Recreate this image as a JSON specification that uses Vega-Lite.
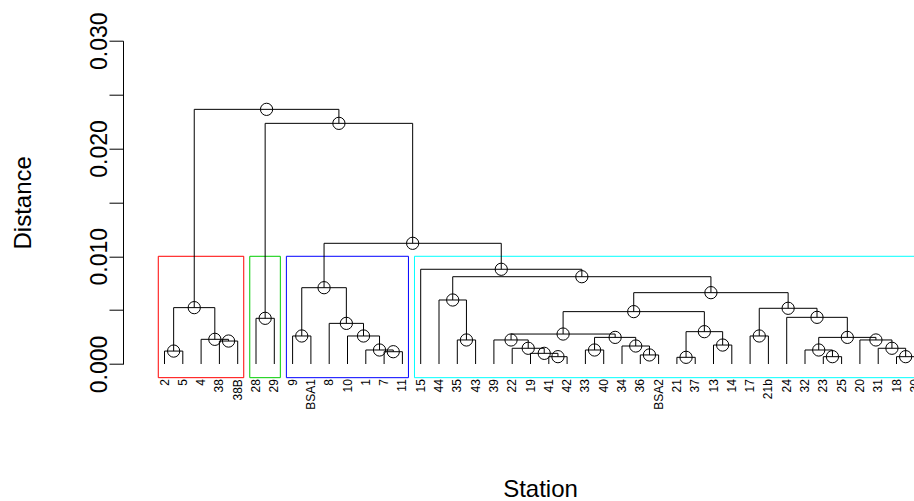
{
  "$schema": "https://vega.github.io/schema/vega-lite/v6.json",
  "autosize": {"type": "none"},
  "padding": {"left": 146.2, "top": 40.7, "right": 0, "bottom": 137},
  "width": 767.8,
  "height": 323.3,
  "background": "white",
  "config": {
    "view": {"stroke": null},
    "font": "Liberation Sans"
  },
  "datasets": {
    "merges": [
      {"id": 1, "xl": 1, "hl": 0, "xr": 2, "hr": 0, "h": 0.0012, "x": 1.5},
      {"id": 2, "xl": 4, "hl": 0, "xr": 5, "hr": 0, "h": 0.00213, "x": 4.5},
      {"id": 3, "xl": 3, "hl": 0, "xr": 4.5, "hr": 0.00213, "h": 0.00229, "x": 3.75},
      {"id": 4, "xl": 1.5, "hl": 0.0012, "xr": 3.75, "hr": 0.00229, "h": 0.00523, "x": 2.625},
      {"id": 5, "xl": 6, "hl": 0, "xr": 7, "hr": 0, "h": 0.00424, "x": 6.5},
      {"id": 6, "xl": 8, "hl": 0, "xr": 9, "hr": 0, "h": 0.0026, "x": 8.5},
      {"id": 7, "xl": 13, "hl": 0, "xr": 14, "hr": 0, "h": 0.00114, "x": 13.5},
      {"id": 8, "xl": 12, "hl": 0, "xr": 13.5, "hr": 0.00114, "h": 0.0013, "x": 12.75},
      {"id": 9, "xl": 11, "hl": 0, "xr": 12.75, "hr": 0.0013, "h": 0.0026, "x": 11.875},
      {"id": 10, "xl": 10, "hl": 0, "xr": 11.875, "hr": 0.0026, "h": 0.00377, "x": 10.9375},
      {"id": 11, "xl": 8.5, "hl": 0.0026, "xr": 10.9375, "hr": 0.00377, "h": 0.00708, "x": 9.71875},
      {"id": 12, "xl": 17, "hl": 0, "xr": 18, "hr": 0, "h": 0.00223, "x": 17.5},
      {"id": 13, "xl": 16, "hl": 0, "xr": 17.5, "hr": 0.00223, "h": 0.00594, "x": 16.75},
      {"id": 14, "xl": 22, "hl": 0, "xr": 23, "hr": 0, "h": 0.00068, "x": 22.5},
      {"id": 15, "xl": 21, "hl": 0, "xr": 22.5, "hr": 0.00068, "h": 0.00099, "x": 21.75},
      {"id": 16, "xl": 20, "hl": 0, "xr": 21.75, "hr": 0.00099, "h": 0.00146, "x": 20.875},
      {"id": 17, "xl": 19, "hl": 0, "xr": 20.875, "hr": 0.00146, "h": 0.00223, "x": 19.9375},
      {"id": 18, "xl": 24, "hl": 0, "xr": 25, "hr": 0, "h": 0.0013, "x": 24.5},
      {"id": 19, "xl": 27, "hl": 0, "xr": 28, "hr": 0, "h": 0.00084, "x": 27.5},
      {"id": 20, "xl": 26, "hl": 0, "xr": 27.5, "hr": 0.00084, "h": 0.00167, "x": 26.75},
      {"id": 21, "xl": 24.5, "hl": 0.0013, "xr": 26.75, "hr": 0.00167, "h": 0.00247, "x": 25.625},
      {"id": 22, "xl": 19.9375, "hl": 0.00223, "xr": 25.625, "hr": 0.00247, "h": 0.00278, "x": 22.78125},
      {"id": 23, "xl": 29, "hl": 0, "xr": 30, "hr": 0, "h": 0.00062, "x": 29.5},
      {"id": 24, "xl": 31, "hl": 0, "xr": 32, "hr": 0, "h": 0.00176, "x": 31.5},
      {"id": 25, "xl": 29.5, "hl": 0.00062, "xr": 31.5, "hr": 0.00176, "h": 0.003, "x": 30.5},
      {"id": 26, "xl": 22.78125, "hl": 0.00278, "xr": 30.5, "hr": 0.003, "h": 0.00486, "x": 26.640625},
      {"id": 27, "xl": 33, "hl": 0, "xr": 34, "hr": 0, "h": 0.0026, "x": 33.5},
      {"id": 28, "xl": 37, "hl": 0, "xr": 38, "hr": 0, "h": 0.00068, "x": 37.5},
      {"id": 29, "xl": 36, "hl": 0, "xr": 37.5, "hr": 0.00068, "h": 0.0013, "x": 36.75},
      {"id": 30, "xl": 41, "hl": 0, "xr": 42, "hr": 0, "h": 0.00068, "x": 41.5},
      {"id": 31, "xl": 40, "hl": 0, "xr": 41.5, "hr": 0.00068, "h": 0.00146, "x": 40.75},
      {"id": 32, "xl": 39, "hl": 0, "xr": 40.75, "hr": 0.00146, "h": 0.00223, "x": 39.875},
      {"id": 33, "xl": 36.75, "hl": 0.0013, "xr": 39.875, "hr": 0.00223, "h": 0.00247, "x": 38.3125},
      {"id": 34, "xl": 35, "hl": 0, "xr": 38.3125, "hr": 0.00247, "h": 0.00433, "x": 36.65625},
      {"id": 35, "xl": 33.5, "hl": 0.0026, "xr": 36.65625, "hr": 0.00433, "h": 0.00517, "x": 35.078125},
      {"id": 36, "xl": 26.640625, "hl": 0.00486, "xr": 35.078125, "hr": 0.00517, "h": 0.00662, "x": 30.859375},
      {"id": 37, "xl": 16.75, "hl": 0.00594, "xr": 30.859375, "hr": 0.00662, "h": 0.0081, "x": 23.8046875},
      {"id": 38, "xl": 15, "hl": 0, "xr": 23.8046875, "hr": 0.0081, "h": 0.00879, "x": 19.40234375},
      {"id": 39, "xl": 9.71875, "hl": 0.00708, "xr": 19.40234375, "hr": 0.00879, "h": 0.0112, "x": 14.560546875},
      {"id": 40, "xl": 6.5, "hl": 0.00424, "xr": 14.560546875, "hr": 0.0112, "h": 0.02233, "x": 10.5302734375},
      {"id": 41, "xl": 2.625, "hl": 0.00523, "xr": 10.5302734375, "hr": 0.02233, "h": 0.02363, "x": 6.57763671875}
    ],
    "leaves": [
      {"i": 1, "station": "2"}, {"i": 2, "station": "5"}, {"i": 3, "station": "4"},
      {"i": 4, "station": "38"}, {"i": 5, "station": "38B"}, {"i": 6, "station": "28"},
      {"i": 7, "station": "29"}, {"i": 8, "station": "9"}, {"i": 9, "station": "BSA1"},
      {"i": 10, "station": "8"}, {"i": 11, "station": "10"}, {"i": 12, "station": "1"},
      {"i": 13, "station": "7"}, {"i": 14, "station": "11"}, {"i": 15, "station": "15"},
      {"i": 16, "station": "44"}, {"i": 17, "station": "35"}, {"i": 18, "station": "43"},
      {"i": 19, "station": "39"}, {"i": 20, "station": "22"}, {"i": 21, "station": "19"},
      {"i": 22, "station": "41"}, {"i": 23, "station": "42"}, {"i": 24, "station": "33"},
      {"i": 25, "station": "40"}, {"i": 26, "station": "34"}, {"i": 27, "station": "36"},
      {"i": 28, "station": "BSA2"}, {"i": 29, "station": "21"}, {"i": 30, "station": "37"},
      {"i": 31, "station": "13"}, {"i": 32, "station": "14"}, {"i": 33, "station": "17"},
      {"i": 34, "station": "21b"}, {"i": 35, "station": "24"}, {"i": 36, "station": "32"},
      {"i": 37, "station": "23"}, {"i": 38, "station": "25"}, {"i": 39, "station": "20"},
      {"i": 40, "station": "31"}, {"i": 41, "station": "18"}, {"i": 42, "station": "30"}
    ],
    "clusters": [
      {"cluster": "1", "left": 0.66, "right": 5.33, "bottom": -0.00127, "top": 0.009995},
      {"cluster": "2", "left": 5.66, "right": 7.33, "bottom": -0.00127, "top": 0.009995},
      {"cluster": "3", "left": 7.66, "right": 14.33, "bottom": -0.00127, "top": 0.009995},
      {"cluster": "4", "left": 14.66, "right": 42.33, "bottom": -0.00127, "top": 0.009995}
    ]
  },
  "layer": [
    {
      "data": {"name": "clusters"},
      "mark": {"type": "rect", "filled": false, "strokeWidth": 1, "clip": false},
      "encoding": {
        "x": {"field": "left", "type": "quantitative", "scale": {"domain": [0, 41.956], "nice": false, "zero": false},
              "axis": {"title": "Station", "domain": false, "ticks": false, "labels": false, "grid": false,
                       "titleX": 393.8, "titleY": 132, "titleAlign": "center", "titleBaseline": "alphabetic",
                       "titleFontSize": 24, "titleFont": "Liberation Sans", "titleFontWeight": "normal", "titleColor": "black"}},
        "x2": {"field": "right"},
        "y": {"field": "bottom", "type": "quantitative", "scale": {"domain": [0, 0.03], "nice": false, "zero": false},
              "axis": {"title": "Distance", "orient": "left", "offset": 23.2, "grid": false,
                       "values": [0, 0.005, 0.01, 0.015, 0.02, 0.025, 0.03],
                       "labelExpr": "round(datum.value * 1000) % 10 == 0 ? format(datum.value, '.3f') : ''",
                       "labelAngle": 270, "labelAlign": "center", "labelBaseline": "alphabetic",
                       "labelPadding": 3, "labelFontSize": 23, "labelFont": "Liberation Sans", "labelColor": "black",
                       "labelOverlap": false, "labelFlush": false, "labelBound": false,
                       "tickSize": 14, "tickColor": "black", "tickWidth": 1,
                       "domainColor": "black", "domainWidth": 1,
                       "titleFontSize": 24, "titleFont": "Liberation Sans", "titleFontWeight": "normal", "titleColor": "black",
                       "titleAngle": 270, "titleAlign": "center", "titleBaseline": "alphabetic", "titleX": -92.5}},
        "y2": {"field": "top"},
        "stroke": {"field": "cluster", "type": "nominal",
                   "scale": {"domain": ["1", "2", "3", "4"], "range": ["#FF0000", "#00CD00", "#0000FF", "#00FFFF"]},
                   "legend": null}
      }
    },
    {
      "data": {"name": "merges"},
      "mark": {"type": "rule", "color": "black", "strokeWidth": 1},
      "encoding": {
        "x": {"field": "xl", "type": "quantitative", "scale": {"domain": [0, 41.956], "nice": false, "zero": false}},
        "x2": {"field": "xr"},
        "y": {"field": "h", "type": "quantitative", "scale": {"domain": [0, 0.03], "nice": false, "zero": false}}
      }
    },
    {
      "data": {"name": "merges"},
      "mark": {"type": "rule", "color": "black", "strokeWidth": 1},
      "encoding": {
        "x": {"field": "xl", "type": "quantitative", "scale": {"domain": [0, 41.956], "nice": false, "zero": false}},
        "y": {"field": "hl", "type": "quantitative", "scale": {"domain": [0, 0.03], "nice": false, "zero": false}},
        "y2": {"field": "h"}
      }
    },
    {
      "data": {"name": "merges"},
      "mark": {"type": "rule", "color": "black", "strokeWidth": 1},
      "encoding": {
        "x": {"field": "xr", "type": "quantitative", "scale": {"domain": [0, 41.956], "nice": false, "zero": false}},
        "y": {"field": "hr", "type": "quantitative", "scale": {"domain": [0, 0.03], "nice": false, "zero": false}},
        "y2": {"field": "h"}
      }
    },
    {
      "data": {"name": "merges"},
      "mark": {"type": "point", "shape": "circle", "filled": false, "stroke": "black", "strokeWidth": 1, "size": 150, "opacity": 1},
      "encoding": {
        "x": {"field": "x", "type": "quantitative", "scale": {"domain": [0, 41.956], "nice": false, "zero": false}},
        "y": {"field": "h", "type": "quantitative", "scale": {"domain": [0, 0.03], "nice": false, "zero": false}}
      }
    },
    {
      "data": {"name": "leaves"},
      "mark": {"type": "text", "angle": 270, "align": "right", "baseline": "middle", "dx": -1.5,
               "fontSize": 12, "font": "Liberation Sans", "color": "black"},
      "encoding": {
        "x": {"field": "i", "type": "quantitative", "scale": {"domain": [0, 41.956], "nice": false, "zero": false}},
        "y": {"datum": -0.00127, "type": "quantitative", "scale": {"domain": [0, 0.03], "nice": false, "zero": false}},
        "text": {"field": "station"}
      }
    }
  ]
}
